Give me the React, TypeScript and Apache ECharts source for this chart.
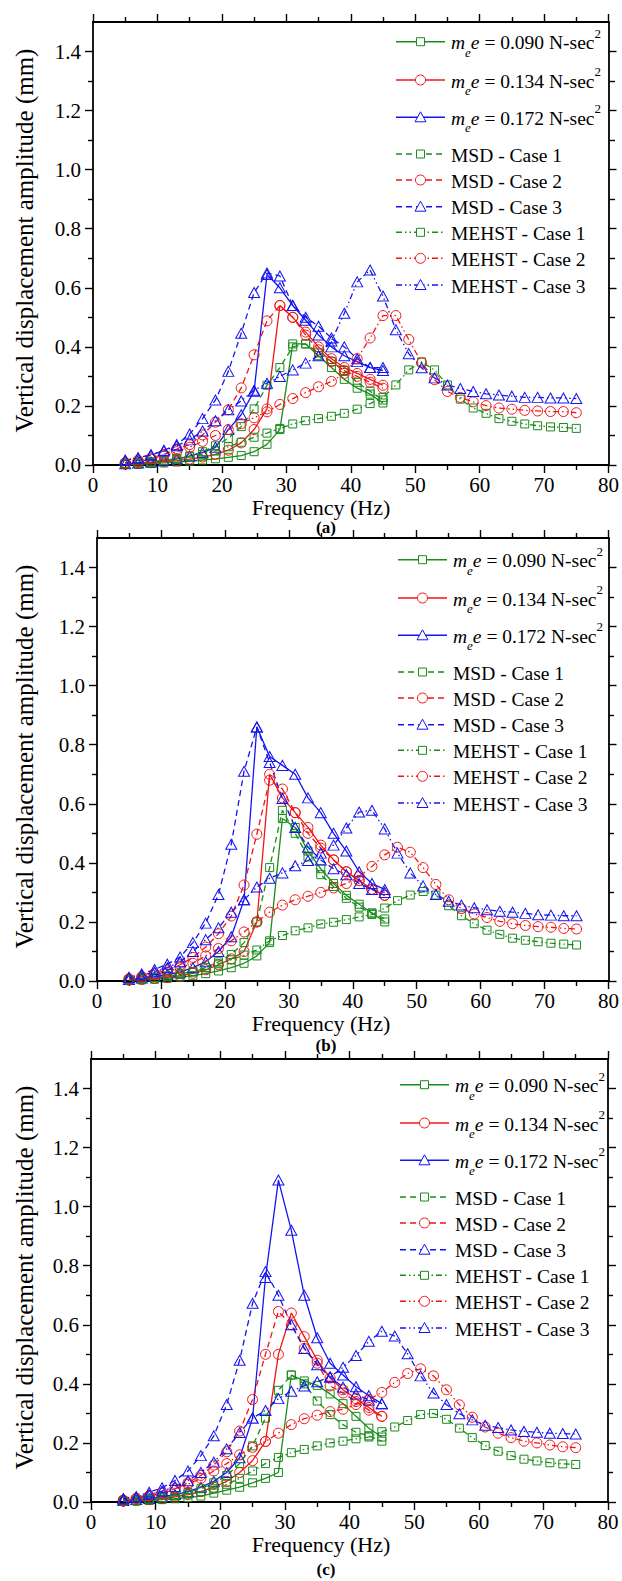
import React, { useEffect, useRef } from 'react';
import * as echarts from 'echarts';

// ---------- data ----------
const FREQ_LONG = [5, 7, 9, 11, 13, 15, 17, 19, 21, 23, 25, 27, 29, 31, 33, 35, 37, 39, 41, 43, 45, 47, 49, 51, 53, 55, 57, 59, 61, 63, 65, 67, 69, 71, 73, 75];
const FREQ_SHORT = [5, 7, 9, 11, 13, 15, 17, 19, 21, 23, 25, 27, 29, 31, 33, 35, 37, 39, 41, 43, 45];

const X_TICKS = [0, 10, 20, 30, 40, 50, 60, 70, 80];
const Y_TICKS = [0, 0.2, 0.4, 0.6, 0.8, 1.0, 1.2, 1.4];
const Y_MINOR = [0.1, 0.3, 0.5, 0.7, 0.9, 1.1, 1.3];

const LEGEND_NAMES = [
  '0.090', '0.134', '0.172',
  'MSD - Case 1', 'MSD - Case 2', 'MSD - Case 3',
  'MEHST - Case 1', 'MEHST - Case 2', 'MEHST - Case 3',
];

// Panel (a)
const A_EXP_090 = [0.002, 0.003, 0.005, 0.007, 0.01, 0.013, 0.017, 0.021, 0.026, 0.032, 0.045, 0.07, 0.12, 0.41, 0.41, 0.37, 0.33, 0.29, 0.26, 0.24, 0.21];
const A_EXP_134 = [0.003, 0.005, 0.008, 0.011, 0.015, 0.02, 0.027, 0.036, 0.05, 0.075, 0.12, 0.19, 0.54, 0.5, 0.45, 0.4, 0.36, 0.33, 0.31, 0.29, 0.27];
const A_EXP_172 = [0.004, 0.007, 0.01, 0.015, 0.021, 0.03, 0.042, 0.06, 0.12, 0.17, 0.25, 0.645, 0.6, 0.54, 0.49, 0.44, 0.4, 0.37, 0.35, 0.33, 0.32];
const A_MSD_1 = [0.003, 0.006, 0.01, 0.015, 0.022, 0.03, 0.045, 0.065, 0.09, 0.13, 0.19, 0.27, 0.33, 0.4, 0.41, 0.38, 0.35, 0.32, 0.28, 0.25, 0.22];
const A_MSD_2 = [0.008, 0.016, 0.024, 0.036, 0.054, 0.069, 0.102, 0.145, 0.187, 0.261, 0.373, 0.488, 0.54, 0.5, 0.44, 0.39, 0.35, 0.32, 0.3, 0.28, 0.26];
const A_MSD_3 = [0.016, 0.024, 0.033, 0.05, 0.069, 0.105, 0.157, 0.22, 0.317, 0.446, 0.584, 0.65, 0.64, 0.54, 0.5, 0.47, 0.43, 0.4, 0.36, 0.33, 0.33];
const A_MEHST_1 = [0.005, 0.007, 0.01, 0.015, 0.02, 0.028, 0.036, 0.048, 0.062, 0.077, 0.094, 0.108, 0.124, 0.139, 0.15, 0.157, 0.165, 0.175, 0.189, 0.208, 0.229, 0.271, 0.322, 0.349, 0.322, 0.271, 0.223, 0.193, 0.175, 0.157, 0.148, 0.139, 0.133, 0.129, 0.127, 0.124];
const A_MEHST_2 = [0.006, 0.012, 0.02, 0.03, 0.045, 0.06, 0.08, 0.1, 0.12, 0.14, 0.16, 0.18, 0.205, 0.225, 0.245, 0.265, 0.283, 0.31, 0.36, 0.43, 0.506, 0.506, 0.425, 0.346, 0.289, 0.249, 0.229, 0.214, 0.201, 0.193, 0.189, 0.185, 0.183, 0.181, 0.181, 0.177];
const A_MEHST_3 = [0.016, 0.024, 0.035, 0.048, 0.065, 0.085, 0.115, 0.15, 0.187, 0.217, 0.253, 0.277, 0.3, 0.322, 0.345, 0.37, 0.42, 0.514, 0.62, 0.66, 0.572, 0.458, 0.377, 0.329, 0.295, 0.271, 0.259, 0.249, 0.241, 0.237, 0.233, 0.229, 0.229, 0.227, 0.227, 0.225];

// Panel (b)
const B_EXP_090 = [0.002, 0.004, 0.006, 0.009, 0.013, 0.018, 0.025, 0.034, 0.045, 0.06, 0.085, 0.13, 0.55, 0.52, 0.44, 0.38, 0.33, 0.29, 0.26, 0.23, 0.2];
const B_EXP_134 = [0.003, 0.005, 0.008, 0.012, 0.018, 0.026, 0.038, 0.055, 0.075, 0.1, 0.2, 0.7, 0.62, 0.57, 0.52, 0.46, 0.41, 0.37, 0.34, 0.31, 0.29];
const B_EXP_172 = [0.005, 0.01, 0.015, 0.022, 0.03, 0.045, 0.065, 0.1, 0.15, 0.275, 0.86, 0.76, 0.73, 0.7, 0.62, 0.57, 0.5, 0.44, 0.37, 0.33, 0.31];
const B_MSD_1 = [0.003, 0.006, 0.01, 0.015, 0.022, 0.03, 0.045, 0.065, 0.09, 0.13, 0.2, 0.384, 0.578, 0.5, 0.42, 0.36, 0.32, 0.28, 0.25, 0.23, 0.21];
const B_MSD_2 = [0.008, 0.015, 0.025, 0.037, 0.055, 0.08, 0.115, 0.16, 0.22, 0.325, 0.497, 0.68, 0.65, 0.57, 0.5, 0.45, 0.41, 0.37, 0.34, 0.31, 0.29];
const B_MSD_3 = [0.012, 0.024, 0.039, 0.057, 0.081, 0.13, 0.196, 0.293, 0.463, 0.71, 0.86, 0.74, 0.618, 0.52, 0.453, 0.41, 0.38, 0.36, 0.33, 0.31, 0.3];
const B_MEHST_1 = [0.004, 0.007, 0.012, 0.017, 0.024, 0.032, 0.045, 0.058, 0.072, 0.088, 0.105, 0.136, 0.154, 0.17, 0.18, 0.193, 0.199, 0.208, 0.217, 0.225, 0.247, 0.272, 0.291, 0.303, 0.291, 0.255, 0.221, 0.194, 0.172, 0.158, 0.145, 0.138, 0.133, 0.128, 0.125, 0.122];
const B_MEHST_2 = [0.006, 0.012, 0.02, 0.03, 0.045, 0.06, 0.085, 0.11, 0.136, 0.166, 0.2, 0.233, 0.257, 0.275, 0.287, 0.3, 0.315, 0.33, 0.354, 0.388, 0.427, 0.453, 0.436, 0.384, 0.327, 0.275, 0.245, 0.227, 0.215, 0.202, 0.194, 0.188, 0.184, 0.182, 0.178, 0.176];
const B_MEHST_3 = [0.012, 0.02, 0.03, 0.045, 0.065, 0.1, 0.14, 0.18, 0.233, 0.275, 0.318, 0.348, 0.366, 0.39, 0.408, 0.433, 0.46, 0.518, 0.572, 0.578, 0.515, 0.433, 0.366, 0.322, 0.293, 0.27, 0.257, 0.248, 0.241, 0.236, 0.233, 0.229, 0.224, 0.223, 0.221, 0.221];

// Panel (c)
const C_EXP_090 = [0.002, 0.003, 0.005, 0.008, 0.011, 0.015, 0.02, 0.03, 0.04, 0.05, 0.065, 0.08, 0.1, 0.43, 0.41, 0.395, 0.366, 0.333, 0.29, 0.25, 0.22];
const C_EXP_134 = [0.003, 0.005, 0.008, 0.012, 0.017, 0.025, 0.035, 0.05, 0.07, 0.1, 0.14, 0.205, 0.5, 0.64, 0.56, 0.48, 0.42, 0.38, 0.35, 0.32, 0.29];
const C_EXP_172 = [0.005, 0.008, 0.012, 0.018, 0.025, 0.035, 0.05, 0.07, 0.1, 0.15, 0.284, 0.76, 1.09, 0.92, 0.7, 0.556, 0.47, 0.43, 0.39, 0.36, 0.333];
const C_MSD_1 = [0.003, 0.006, 0.01, 0.015, 0.022, 0.032, 0.045, 0.065, 0.09, 0.13, 0.19, 0.284, 0.378, 0.43, 0.4, 0.342, 0.296, 0.262, 0.236, 0.224, 0.206];
const C_MSD_2 = [0.006, 0.012, 0.02, 0.03, 0.045, 0.065, 0.09, 0.125, 0.17, 0.24, 0.347, 0.5, 0.645, 0.6, 0.52, 0.47, 0.393, 0.369, 0.34, 0.311, 0.29];
const C_MSD_3 = [0.012, 0.018, 0.033, 0.048, 0.073, 0.105, 0.157, 0.224, 0.33, 0.48, 0.673, 0.78, 0.7, 0.6, 0.52, 0.465, 0.423, 0.389, 0.366, 0.345, 0.333];
const C_MEHST_1 = [0.004, 0.006, 0.01, 0.014, 0.02, 0.027, 0.035, 0.045, 0.06, 0.08, 0.105, 0.13, 0.151, 0.167, 0.178, 0.19, 0.2, 0.206, 0.214, 0.22, 0.238, 0.254, 0.276, 0.296, 0.3, 0.28, 0.25, 0.218, 0.191, 0.172, 0.157, 0.145, 0.139, 0.133, 0.129, 0.127];
const C_MEHST_2 = [0.006, 0.012, 0.02, 0.03, 0.045, 0.06, 0.08, 0.105, 0.13, 0.16, 0.185, 0.205, 0.233, 0.262, 0.282, 0.294, 0.306, 0.314, 0.33, 0.347, 0.371, 0.405, 0.435, 0.451, 0.427, 0.38, 0.329, 0.287, 0.254, 0.233, 0.218, 0.206, 0.2, 0.193, 0.187, 0.184];
const C_MEHST_3 = [0.01, 0.016, 0.025, 0.037, 0.052, 0.072, 0.1, 0.135, 0.18, 0.235, 0.284, 0.31, 0.35, 0.375, 0.393, 0.407, 0.423, 0.456, 0.496, 0.544, 0.578, 0.562, 0.502, 0.427, 0.369, 0.33, 0.299, 0.278, 0.26, 0.252, 0.244, 0.239, 0.236, 0.233, 0.232, 0.23];

// ---------- styling ----------
const SERIF = 'Liberation Serif';
const GREEN = '#1a8c1a';
const RED = '#f21414';
const BLUE = '#1414f2';
const DASH = [6, 4];
const DASHDOTDOT = [6, 3, 1.5, 3, 1.5, 3];

const CASES = [
  { color: GREEN, symbol: 'rect', size: 8 },
  { color: RED, symbol: 'circle', size: 10 },
  { color: BLUE, symbol: 'triangle', size: [11, 10] },
];
const GROUPS = [
  { type: 'solid' as any, freq: FREQ_SHORT },
  { type: DASH as any, freq: FREQ_SHORT },
  { type: DASHDOTDOT as any, freq: FREQ_LONG },
];

const PANELS = [
  { label: '(a)', left: 93, top: 22, width: 517, height: 443, legendTop: 23, legendX: 396, labelX: 326, labelDY: 62,
    data: [[A_EXP_090, A_EXP_134, A_EXP_172], [A_MSD_1, A_MSD_2, A_MSD_3], [A_MEHST_1, A_MEHST_2, A_MEHST_3]] },
  { label: '(b)', left: 97, top: 538, width: 512, height: 443, legendTop: 541, legendX: 398, labelX: 326, labelDY: 64,
    data: [[B_EXP_090, B_EXP_134, B_EXP_172], [B_MSD_1, B_MSD_2, B_MSD_3], [B_MEHST_1, B_MEHST_2, B_MEHST_3]] },
  { label: '(c)', left: 91, top: 1059, width: 517, height: 443, legendTop: 1066, legendX: 400, labelX: 326, labelDY: 67,
    data: [[C_EXP_090, C_EXP_134, C_EXP_172], [C_MSD_1, C_MSD_2, C_MSD_3], [C_MEHST_1, C_MEHST_2, C_MEHST_3]] },
];

const LEGEND_ROWS = [18.7, 57, 94.3, 131, 157, 183.7, 209.3, 235.3, 262];

const AXIS_LINE = { show: true, onZero: false, lineStyle: { color: '#000', width: 1.8 } };
const TICK_STYLE = { color: '#000', width: 1.4 };

function txt(x: number, y: number, text: string, size: number, extra: any = {}, el: any = {}) {
  return {
    type: 'text', x, y, ...el,
    style: {
      text, fill: '#000', fontSize: size, fontFamily: SERIF,
      textAlign: 'center', textVerticalAlign: 'middle', align: 'center', verticalAlign: 'middle',
      ...extra,
    },
  };
}

function buildOption() {
  const grid: any[] = [];
  const xAxis: any[] = [];
  const yAxis: any[] = [];
  const series: any[] = [];
  const graphic: any[] = [];

  PANELS.forEach((p, i) => {
    const rect = { left: p.left, top: p.top, width: p.width, height: p.height };
    grid.push({ ...rect }, { ...rect });
    const xBase = {
      type: 'value', min: 0, max: 80, interval: 10,
      axisLine: AXIS_LINE,
      axisTick: { show: true, length: 8, lineStyle: TICK_STYLE },
      minorTick: { show: true, splitNumber: 2, length: 5, lineStyle: TICK_STYLE },
      splitLine: { show: false },
    };
    xAxis.push({
      ...xBase, gridIndex: 2 * i, position: 'bottom',
      axisLabel: { show: true, margin: 9, color: '#000', fontSize: 21, fontFamily: SERIF,
        customValues: X_TICKS, formatter: (v: number) => String(v) },
    });
    xAxis.push({ ...xBase, gridIndex: 2 * i, position: 'top', axisLabel: { show: false } });
    xAxis.push({ type: 'value', gridIndex: 2 * i + 1, min: 0, max: 80, show: false });

    const yMain = (pos: string, labels: boolean) => ({
      type: 'value', gridIndex: 2 * i, position: pos, min: 0, max: 1.5,
      axisLine: AXIS_LINE,
      axisTick: { show: true, length: 8, lineStyle: TICK_STYLE, customValues: Y_TICKS },
      axisLabel: { show: labels, margin: 12, color: '#000', fontSize: 21, fontFamily: SERIF,
        customValues: Y_TICKS, formatter: (v: number) => v.toFixed(1) },
      splitLine: { show: false },
    });
    const yMinor = (pos: string) => ({
      type: 'value', gridIndex: 2 * i + 1, position: pos, min: 0, max: 1.5,
      axisLine: { show: false, onZero: false },
      axisTick: { show: true, length: 5, lineStyle: TICK_STYLE, customValues: Y_MINOR },
      axisLabel: { show: false, customValues: Y_MINOR },
      splitLine: { show: false },
    });
    yAxis.push(yMain('left', true), yMain('right', false), yMinor('left'), yMinor('right'));

    GROUPS.forEach((g, gi) => {
      CASES.forEach((c, ci) => {
        const vals = p.data[gi][ci];
        series.push({
          type: 'line',
          name: LEGEND_NAMES[gi * 3 + ci],
          xAxisIndex: 3 * i,
          yAxisIndex: 4 * i,
          data: g.freq.map((f, k) => [f, vals[k]]),
          symbol: c.symbol,
          symbolSize: c.size,
          showSymbol: true,
          silent: true,
          lineStyle: { color: c.color, width: 1.3, type: g.type },
          itemStyle: { color: 'rgba(255,255,255,0)', borderColor: c.color, borderWidth: 1 },
          emphasis: { disabled: true },
        });
      });
    });

    // axis names and panel label
    graphic.push(txt(24, p.top + p.height / 2 - 3, 'Vertical displacement amplitude (mm)', 25, {}, { rotation: Math.PI / 2 }));
    graphic.push(txt(321, p.top + p.height + 42, 'Frequency (Hz)', 22));
    graphic.push(txt(p.labelX, p.top + p.height + p.labelDY, p.label, 17, { fontWeight: 'bold' }));

    // legend
    GROUPS.forEach((g, gi) => {
      CASES.forEach((c, ci) => {
        const idx = gi * 3 + ci;
        const y = p.legendTop + LEGEND_ROWS[idx];
        const x1 = p.legendX;
        const x2 = p.legendX + 49;
        const cx = (x1 + x2) / 2;
        graphic.push({
          type: 'line', shape: { x1, y1: y, x2, y2: y },
          style: { stroke: c.color, lineWidth: 1.4, lineDash: g.type === 'solid' ? null : g.type },
        });
        const mStyle = { fill: '#fff', stroke: c.color, lineWidth: 1 };
        if (c.symbol === 'rect') {
          graphic.push({ type: 'rect', shape: { x: cx - 4, y: y - 4, width: 8, height: 8 }, style: mStyle });
        } else if (c.symbol === 'circle') {
          graphic.push({ type: 'circle', shape: { cx, cy: y, r: 5 }, style: mStyle });
        } else {
          graphic.push({ type: 'polygon', shape: { points: [[cx, y - 5.5], [cx + 5.5, y + 4.5], [cx - 5.5, y + 4.5]] }, style: mStyle });
        }
        const tx = p.legendX + 55;
        if (gi === 0) {
          graphic.push(txt(tx, y + 1, `{i|m}{s|e}{i|e}{n| = ${LEGEND_NAMES[idx]} N-sec}{p|2}`, 19.5, {
            textAlign: 'left', align: 'left',
            rich: {
              i: { fontStyle: 'italic', fontSize: 19.5, fontFamily: SERIF, lineHeight: 32, verticalAlign: 'middle', fill: '#000' },
              n: { fontSize: 19.5, fontFamily: SERIF, lineHeight: 32, verticalAlign: 'middle', fill: '#000' },
              s: { fontStyle: 'italic', fontSize: 13, fontFamily: SERIF, verticalAlign: 'bottom', fill: '#000' },
              p: { fontSize: 13, fontFamily: SERIF, verticalAlign: 'top', fill: '#000' },
            },
          }));
        } else {
          graphic.push(txt(tx, y + 1, LEGEND_NAMES[idx], 19.5, { textAlign: 'left', align: 'left' }));
        }
      });
    });
  });

  return {
    animation: false,
    backgroundColor: '#fff',
    textStyle: { fontFamily: SERIF },
    grid, xAxis, yAxis, series, graphic,
  };
}

export default function App() {
  const ref = useRef<HTMLDivElement>(null);
  useEffect(() => {
    if (!ref.current) return;
    const chart = echarts.init(ref.current, null, { renderer: 'svg' });
    chart.setOption(buildOption());
    return () => chart.dispose();
  }, []);
  return (
    <div
      ref={ref}
      style={{ position: 'absolute', left: 0, top: 0, width: 622, height: 1581, background: '#fff' }}
    />
  );
}
